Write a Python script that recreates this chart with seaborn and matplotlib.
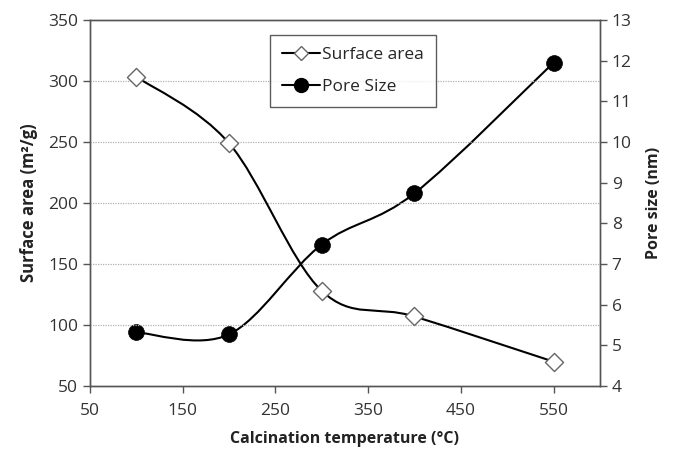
import matplotlib
matplotlib.use("Agg")
import matplotlib.pyplot as plt
import seaborn as sns
import numpy as np
import pandas as pd
from matplotlib.path import Path
from matplotlib.patches import PathPatch
from matplotlib.lines import Line2D

temperature = [100, 200, 300, 400, 550]
surface_area = [303.5, 249, 128, 107, 70]
pore_size = [5.32, 5.27, 7.48, 8.74, 11.95]
x_ticks = [50, 150, 250, 350, 450, 550]
left_ticks = [50, 100, 150, 200, 250, 300, 350]
right_ticks = [4, 5, 6, 7, 8, 9, 10, 11, 12, 13]

sns.set_theme(style="white")
plt.rcParams['font.family'] = ['Open Sans', 'DejaVu Sans']

df = pd.DataFrame({"temp": temperature, "sa": surface_area, "ps": pore_size})


def smooth_path(xs, ys):
    # Cubic Bezier (Catmull-Rom style) through the data points, as Excel's smoothed line
    pts = np.column_stack([xs, ys]).astype(float)
    n = len(pts)
    verts = [pts[0]]
    codes = [Path.MOVETO]
    for i in range(n - 1):
        p0 = pts[i - 1] if i > 0 else pts[i]
        p1 = pts[i]
        p2 = pts[i + 1]
        p3 = pts[i + 2] if i + 2 < n else pts[i + 1]
        c1 = p1 + (p2 - p0) / 6.0
        c2 = p2 - (p3 - p1) / 6.0
        verts += [c1, c2, p2]
        codes += [Path.CURVE4] * 3
    return Path(verts, codes)


fig = plt.figure(figsize=(6.74, 4.55), dpi=100)
ax = fig.add_axes([0.1335, 0.1516, 0.7565, 0.8044])
ax2 = ax.twinx()

ax.set_xlim(50, 600)
ax.set_ylim(50, 350)
ax2.set_ylim(4, 13)

ax.set_yticks(left_ticks)
ax.set_xticks(x_ticks)
ax2.set_yticks(right_ticks)
for t in left_ticks[1:-1]:
    ax.axhline(t, color="#b0b0b0", lw=0.9, ls=(0, (1, 1)), zorder=0)

ax.add_patch(PathPatch(smooth_path(df["temp"], df["sa"]), fill=False,
                       edgecolor="black", lw=1.5, zorder=2))
ax2.add_patch(PathPatch(smooth_path(df["temp"], df["ps"]), fill=False,
                        edgecolor="black", lw=1.5, zorder=2))

sns.scatterplot(data=df, x="temp", y="sa", ax=ax, marker="D", s=85,
                facecolor="white", edgecolor="#666666", linewidth=1.0, zorder=3)
sns.scatterplot(data=df, x="temp", y="ps", ax=ax2, marker="o", s=130,
                color="black", edgecolor="black", linewidth=0.5, zorder=3)

ax.set_xlim(50, 600)
ax.set_ylim(50, 350)
ax2.set_ylim(4, 13)

for a in (ax, ax2):
    for s in a.spines.values():
        s.set_color("#555555")
        s.set_linewidth(1.0)
ax.tick_params(axis="both", direction="out", length=5, width=1.0, color="#555555",
               labelsize=12.5, colors="#333333", left=True, bottom=True)
ax2.tick_params(axis="y", direction="out", length=5, width=1.0, color="#555555",
                labelsize=12.5, colors="#333333", right=True)
ax.tick_params(axis="x", pad=7)

ax.set_xlabel("Calcination temperature (°C)", fontsize=11.5, fontweight="bold",
              color="#222222", labelpad=9)
ax.set_ylabel("Surface area (m²/g)", fontsize=12, fontweight="bold",
              color="#222222", labelpad=7)
ax2.set_ylabel("Pore size (nm)", fontsize=11.5, fontweight="bold",
               color="#222222", labelpad=10)

handles = [
    Line2D([], [], color="black", lw=1.5, marker="D", markersize=7,
           markerfacecolor="white", markeredgecolor="#666666"),
    Line2D([], [], color="black", lw=1.5, marker="o", markersize=10,
           markerfacecolor="black", markeredgecolor="black"),
]
leg = ax.legend(handles, ["Surface area", "Pore Size"], loc="upper left",
                bbox_to_anchor=(0.353, 0.959), borderaxespad=0, fontsize=12.5,
                frameon=True, fancybox=False, handlelength=2.2,
                handletextpad=0.1, labelspacing=0.9, borderpad=0.7)
leg.get_frame().set_edgecolor("#333333")
leg.get_frame().set_linewidth(1.0)
ax.set_zorder(ax2.get_zorder() + 1)
ax.patch.set_visible(False)
leg.set_zorder(10)

fig.savefig("out.png", dpi=100)
